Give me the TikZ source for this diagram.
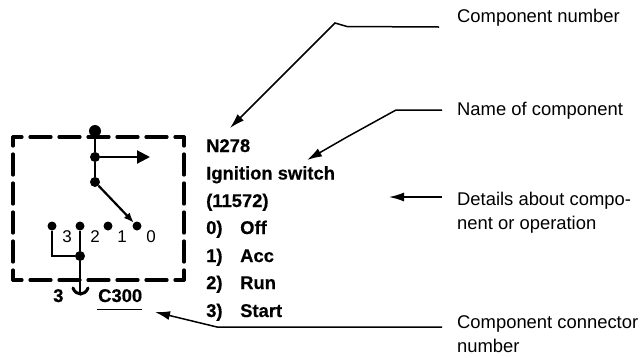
\documentclass[tikz,border=0pt]{standalone}
\usepackage{fontspec}
\setmainfont[BoldFeatures={FakeBold=0.5}]{Liberation Sans}
\usetikzlibrary{arrows.meta}
\tikzset{
  lbl/.style={anchor=base west,inner sep=0pt,font=\fontsize{18.4}{20}\selectfont},
  bld/.style={anchor=base west,inner sep=0pt,font=\fontsize{18.4}{20}\selectfont\bfseries},
  num/.style={anchor=center,inner sep=0pt,font=\fontsize{17}{18}\selectfont},
  topdot/.style={circle,fill=black,inner sep=0pt,minimum size=12pt},
  dot/.style={circle,fill=black,inner sep=0pt,minimum size=10pt},
  smalldot/.style={circle,fill=black,inner sep=0pt,minimum size=9pt},
  lead/.style={line width=1.5pt,-{Latex[length=15pt,width=9pt]}},
  wire/.style={line width=2.2pt},
  box/.style={line width=3.2pt,line cap=round,line join=round,dash pattern=on 21pt off 8pt,dash phase=12pt},
}
\begin{document}
\begin{tikzpicture}[x=1pt,y=-1pt]
\useasboundingbox (0,0) rectangle (644,357);
% dashed box
\coordinate (tl) at (13,137);
\coordinate (tr) at (184,137);
\coordinate (bl) at (13,280);
\coordinate (br) at (184,280);
\draw[box] (tl) -- (tr);
\draw[box] (tl) -- (bl);
\draw[box] (bl) -- (br);
\draw[box] (tr) -- (br);
% dots
\node[topdot] (top) at (95,131) {};
\node[dot] (j1) at (95,157) {};
\node[dot] (j2) at (95,182) {};
\node[smalldot] (c3) at (52,226) {};
\node[smalldot] (c2) at (80,226) {};
\node[smalldot] (c1) at (108,226) {};
\node[smalldot] (c0) at (137,226) {};
\node[dot] (j3) at (80,256) {};
\coordinate (ae) at (150,157);
\coordinate (cb) at (80,293);
\coordinate (cl) at (73,288);
\coordinate (cr) at (88,288);
% wires
\draw[wire] (top) -- (j1) -- (j2);
\draw[wire,-{Triangle[length=13pt,width=13pt]}] (j1) -- (ae);
\draw[wire,-{Latex[length=10pt,width=8pt]}] (j2) -- (c0);
\draw[wire] (c3) |- (j3);
\draw[wire] (c2) -- (j3) -- (cb);
\draw[line width=3pt,line cap=round] (cl) .. controls (76,296) and (85,296) .. (cr);
% position numbers
\node[num] (n3) at (67,236.5) {3};
\node[num] (n2) at (95,236.5) {2};
\node[num] (n1) at (122,236.5) {1};
\node[num] (n0) at (151,236.5) {0};
% connector labels
\node[bld] (pin) at (53,302) {3};
\node[bld] (conn) at (98,302) {C300};
\coordinate (ula) at (97,309);
\coordinate (ulb) at (142,309);
\draw[line width=.8pt] (ula) -- (ulb);
% bold text
\node[bld] (t1) at (206,152) {N278};
\node[bld] (t2) at (206,179.5) {Ignition switch};
\node[bld] (t3) at (206,207) {(11572)};
\node[bld] (t4) at (206,234) {0)};
\node[bld] (t4b) at (240,234) {Off};
\node[bld] (t5) at (206,262) {1)};
\node[bld] (t5b) at (240,262) {Acc};
\node[bld] (t6) at (206,289) {2)};
\node[bld] (t6b) at (240,289) {Run};
\node[bld] (t7) at (206,317) {3)};
\node[bld] (t7b) at (240,317) {Start};
% right labels
\node[lbl] (l1) at (457,22) {Component number};
\node[lbl] (l2) at (457,115) {Name of component};
\node[lbl] (l3a) at (457,205) {Details about compo-};
\node[lbl] (l3b) at (457,229) {nent or operation};
\node[lbl] (l4a) at (457,328) {Component connector};
\node[lbl] (l4b) at (457,352) {number};
% leaders
\coordinate (s1) at (439,27);
\coordinate (e1) at (230,128);
\coordinate (s2) at (442,110);
\coordinate (e2) at (307,160);
\coordinate (s3) at (442,197);
\coordinate (e3) at (389,197);
\coordinate (s4) at (442,327);
\coordinate (e4) at (155,312);
\draw[lead] (s1) -- (347,26.5) -- (335,23) -- (e1);
\draw[lead] (s2) -- (396,110) -- (347,137) -- (e2);
\draw[lead] (s3) -- (e3);
\draw[lead] (s4) -- (217,327) -- (e4);
\end{tikzpicture}
\end{document}
